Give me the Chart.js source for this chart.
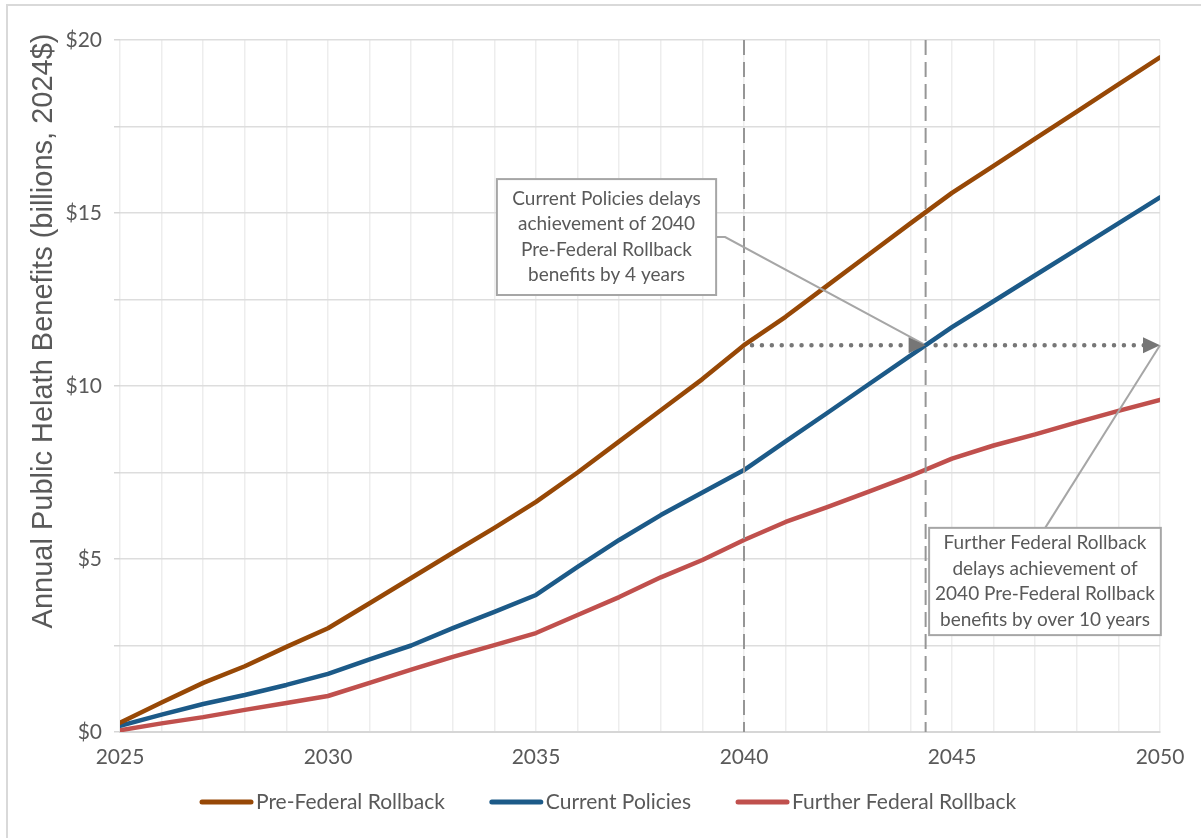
<!DOCTYPE html>
<html>
<head>
<meta charset="utf-8">
<script src="https://cdn.jsdelivr.net/npm/chart.js@4.4.1/dist/chart.umd.min.js"></script>
<style>
  html, body { margin: 0; padding: 0; background: #ffffff; overflow: hidden; }
  #frame { position: absolute; left: 6px; top: 4px; width: 1300px; height: 900px; border: 2px solid #d9d9d9; }
  #wrap { position: absolute; left: 0; top: 0; width: 1201px; height: 838px; }
</style>
</head>
<body>
<div id="frame"></div>
<div id="wrap"><canvas id="chart" width="1201" height="838"></canvas></div>
<script>
// Annual public health benefits, billions of 2024 dollars
const years = [2025, 2026, 2027, 2028, 2029, 2030, 2031, 2032, 2033, 2034, 2035, 2036, 2037,
               2038, 2039, 2040, 2041, 2042, 2043, 2044, 2045, 2046, 2047, 2048, 2049, 2050];
const preFederalRollback = [0.27, 0.85, 1.42, 1.90, 2.46, 3.00, 3.72, 4.45, 5.18, 5.90, 6.65, 7.50, 8.40,
                            9.30, 10.20, 11.18, 12.00, 12.90, 13.80, 14.70, 15.58, 16.36, 17.15, 17.93, 18.72, 19.50];
const currentPolicies = [0.18, 0.50, 0.81, 1.07, 1.36, 1.68, 2.10, 2.50, 3.00, 3.47, 3.96, 4.77, 5.55,
                         6.27, 6.92, 7.57, 8.40, 9.22, 10.05, 10.88, 11.70, 12.45, 13.20, 13.95, 14.70, 15.45];
const furtherFederalRollback = [0.05, 0.25, 0.43, 0.64, 0.84, 1.04, 1.42, 1.80, 2.17, 2.51, 2.86, 3.38, 3.90,
                                4.47, 4.97, 5.55, 6.07, 6.50, 6.95, 7.40, 7.90, 8.28, 8.60, 8.95, 9.28, 9.60];

const seriesNames = ['Pre-Federal Rollback', 'Current Policies', 'Further Federal Rollback'];
const seriesColors = ['#974806', '#1c5a88', '#c0504d'];
const yTickLabels = ['$0', '$5', '$10', '$15', '$20'];
const yAxisTitle = 'Annual Public Helath Benefits (billions, 2024$)';
const referenceYear = 2040;

const callout1Lines = ['Current Policies delays', 'achievement of 2040', 'Pre-Federal Rollback', 'benefits by 4 years'];
const callout2Lines = ['Further Federal Rollback', 'delays achievement of', '2040 Pre-Federal Rollback', 'benefits by over 10 years'];

const TEXT = '#595959';
const FONT_FAMILY = 'Lato, "Open Sans", sans-serif';
const TICK_FONT = { family: FONT_FAMILY, size: 21 };

function points(values) {
  return years.map((yr, i) => ({ x: yr, y: values[i] }));
}

// Year at which a series first reaches a given level (linear between annual points)
function yearReaching(values, level) {
  for (let i = 1; i < values.length; i++) {
    if (values[i - 1] < level && values[i] >= level) {
      return years[i - 1] + (level - values[i - 1]) / (values[i] - values[i - 1]);
    }
  }
  return years[years.length - 1];
}

function arrowHead(ctx, tipX, tipY, len, half, color) {
  ctx.beginPath();
  ctx.moveTo(tipX, tipY);
  ctx.lineTo(tipX - len, tipY - half);
  ctx.lineTo(tipX - len, tipY + half);
  ctx.closePath();
  ctx.fillStyle = color;
  ctx.fill();
}

function drawBox(ctx, x0, y0, x1, y1, lines) {
  ctx.save();
  ctx.fillStyle = '#ffffff';
  ctx.fillRect(x0, y0, x1 - x0, y1 - y0);
  ctx.strokeStyle = '#a6a6a6';
  ctx.lineWidth = 2;
  ctx.setLineDash([]);
  ctx.strokeRect(x0, y0, x1 - x0, y1 - y0);
  ctx.fillStyle = TEXT;
  ctx.font = `19px ${FONT_FAMILY}`;
  ctx.textAlign = 'center';
  ctx.textBaseline = 'middle';
  const lh = 25.5;
  const cx = (x0 + x1) / 2;
  const cy = (y0 + y1) / 2;
  lines.forEach((t, i) => {
    ctx.fillText(t, cx, cy + (i - (lines.length - 1) / 2) * lh);
  });
  ctx.restore();
}

// Reference lines, delay arrows, callouts, axis title and legend
const annotations = {
  id: 'annotations',
  afterDatasetsDraw(chart) {
    const { ctx, chartArea: a, scales: { x, y } } = chart;
    const level = preFederalRollback[years.indexOf(referenceYear)];
    const reachYear = yearReaching(currentPolicies, level);
    const lastYear = years[years.length - 1];
    const py = y.getPixelForValue(level);
    const xRef = x.getPixelForValue(referenceYear);
    const xReach = x.getPixelForValue(reachYear);
    const xEnd = x.getPixelForValue(lastYear);

    ctx.save();
    // dashed verticals
    ctx.strokeStyle = '#969696';
    ctx.lineWidth = 2;
    ctx.setLineDash([15, 7]);
    [xRef, xReach].forEach(px => {
      ctx.beginPath();
      ctx.moveTo(px, a.top);
      ctx.lineTo(px, a.bottom);
      ctx.stroke();
    });

    // dotted delay arrows
    const arrowColor = '#767676';
    ctx.strokeStyle = arrowColor;
    ctx.lineWidth = 4.5;
    ctx.lineCap = 'round';
    ctx.setLineDash([0.01, 9.9]);
    ctx.beginPath();
    ctx.moveTo(xRef + 8, py);
    ctx.lineTo(xReach - 16, py);
    ctx.moveTo(xReach + 10, py);
    ctx.lineTo(xEnd - 16, py);
    ctx.stroke();
    ctx.setLineDash([]);

    // callout 1 with connector to the delayed crossing
    const b1 = {
      x0: x.getPixelForValue(2034.06), x1: x.getPixelForValue(2039.33),
      y0: y.getPixelForValue(15.98), y1: y.getPixelForValue(12.63)
    };
    const c1y = (b1.y0 + b1.y1) / 2;
    ctx.strokeStyle = '#a6a6a6';
    ctx.lineWidth = 2;
    ctx.lineCap = 'butt';
    ctx.beginPath();
    ctx.moveTo(b1.x1, c1y);
    ctx.lineTo(b1.x1 + 9, c1y);
    ctx.lineTo(xReach - 2, py - 1);
    ctx.stroke();
    arrowHead(ctx, xReach, py, 17, 8, arrowColor);
    arrowHead(ctx, xEnd, py, 17, 8, arrowColor);

    // callout 2 with connector to the end of the horizon
    const b2 = {
      x0: x.getPixelForValue(2044.45), x1: x.getPixelForValue(2050.02),
      y0: y.getPixelForValue(5.90), y1: y.getPixelForValue(2.80)
    };
    ctx.beginPath();
    ctx.moveTo(x.getPixelForValue(2047.24), b2.y0);
    ctx.lineTo(xEnd, py);
    ctx.stroke();

    drawBox(ctx, b1.x0, b1.y0, b1.x1, b1.y1, callout1Lines);
    drawBox(ctx, b2.x0, b2.y0, b2.x1, b2.y1, callout2Lines);
    ctx.restore();
  },
  afterDraw(chart) {
    const { ctx } = chart;
    ctx.save();
    // y-axis title
    ctx.translate(44, 331);
    ctx.rotate(-Math.PI / 2);
    ctx.fillStyle = TEXT;
    ctx.font = '29px "Liberation Sans", Arial, sans-serif';
    ctx.textAlign = 'center';
    ctx.textBaseline = 'middle';
    ctx.fillText(yAxisTitle, 0, 0);
    ctx.restore();

    // legend
    ctx.save();
    ctx.font = `${TICK_FONT.size}px ${TICK_FONT.family}`;
    ctx.textBaseline = 'middle';
    ctx.textAlign = 'left';
    let lx = 200;
    const ly = 802;
    chart.data.datasets.forEach(ds => {
      ctx.strokeStyle = ds.borderColor;
      ctx.lineWidth = 5;
      ctx.lineCap = 'round';
      ctx.beginPath();
      ctx.moveTo(lx + 2, ly);
      ctx.lineTo(lx + 51, ly);
      ctx.stroke();
      ctx.fillStyle = TEXT;
      ctx.fillText(ds.label, lx + 56, ly);
      lx += 56 + ctx.measureText(ds.label).width + 45;
    });
    ctx.restore();
  }
};

const seriesValues = [preFederalRollback, currentPolicies, furtherFederalRollback];

new Chart(document.getElementById('chart').getContext('2d'), {
  type: 'line',
  data: {
    datasets: seriesValues.map((vals, i) => ({
      label: seriesNames[i],
      data: points(vals),
      borderColor: seriesColors[i],
      backgroundColor: seriesColors[i],
      borderWidth: 4.5,
      pointRadius: 0,
      tension: 0,
      fill: false,
      borderCapStyle: 'round',
      borderJoinStyle: 'round'
    }))
  },
  options: {
    responsive: false,
    animation: false,
    devicePixelRatio: 1,
    layout: { padding: { top: 40, right: 41, left: 0, bottom: 0 } },
    plugins: { legend: { display: false }, tooltip: { enabled: false } },
    scales: {
      x: {
        type: 'linear',
        min: 2025,
        max: 2050,
        afterFit(s) { s.height = 106; },
        ticks: {
          stepSize: 1,
          autoSkip: false,
          maxRotation: 0,
          padding: 13,
          color: TEXT,
          font: TICK_FONT,
          callback: v => (v % 5 === 0 ? String(v) : '')
        },
        grid: { color: '#ededed', lineWidth: 1.5, drawTicks: false },
        border: { color: '#d6d6d6', width: 2 }
      },
      y: {
        min: 0,
        max: 20,
        afterFit(s) { s.width = 120; },
        ticks: {
          stepSize: 2.5,
          autoSkip: false,
          padding: 12,
          color: TEXT,
          font: TICK_FONT,
          callback: v => (v % 5 === 0 ? yTickLabels[v / 5] : '')
        },
        grid: { color: '#dddddd', lineWidth: 1.5, tickLength: 6, tickColor: '#d6d6d6' },
        border: { display: false }
      }
    }
  },
  plugins: [annotations]
});
</script>
</body>
</html>
